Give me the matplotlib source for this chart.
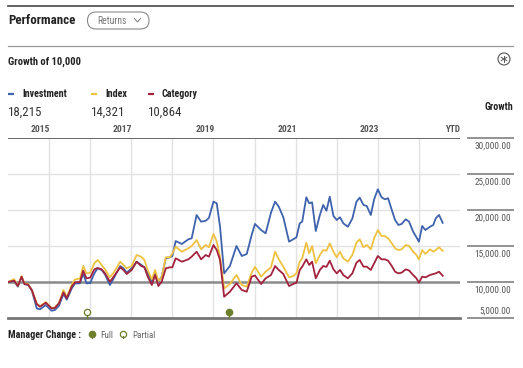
import os
import matplotlib
matplotlib.use("Agg")
import matplotlib.pyplot as plt
from matplotlib import font_manager
from matplotlib.font_manager import FontProperties
from matplotlib.patches import FancyBboxPatch, Circle
import matplotlib.transforms as mtransforms

# ---------------- data ----------------
dates = [2015.00, 2015.15, 2015.24, 2015.33, 2015.40, 2015.49, 2015.58, 2015.70, 2015.78, 2015.92,
         2016.06, 2016.14, 2016.24, 2016.35, 2016.43, 2016.55, 2016.63, 2016.75, 2016.83, 2016.91,
         2017.00, 2017.10, 2017.18, 2017.28, 2017.36, 2017.48, 2017.56, 2017.73, 2017.81, 2017.89,
         2018.01, 2018.13, 2018.24, 2018.32, 2018.40, 2018.50, 2018.58, 2018.66, 2018.74, 2018.84,
         2018.94, 2019.00, 2019.08, 2019.23, 2019.39, 2019.47, 2019.59, 2019.70, 2019.81, 2019.89,
         2020.00, 2020.08, 2020.16, 2020.26, 2020.40, 2020.56, 2020.69, 2020.81, 2020.93, 2021.01,
         2021.16, 2021.27, 2021.40, 2021.50, 2021.59, 2021.70, 2021.84, 2021.94, 2022.02, 2022.10,
         2022.16, 2022.26, 2022.33, 2022.40, 2022.49, 2022.59, 2022.67, 2022.75, 2022.83, 2022.92,
         2023.00, 2023.08, 2023.16, 2023.27, 2023.38, 2023.48, 2023.56, 2023.65, 2023.73, 2023.83,
         2023.91, 2024.00, 2024.09, 2024.17, 2024.25, 2024.34, 2024.42, 2024.50, 2024.58, 2024.68,
         2024.76, 2024.86, 2024.94, 2025.00, 2025.08, 2025.16, 2025.27, 2025.35, 2025.41, 2025.49,
         2025.58]

investment = [10000, 10150, 9350, 10700, 9720, 9600, 8800, 6340, 6200, 6800,
              6010, 6100, 6700, 8330, 7550, 9100, 9800, 9810, 11200, 9810,
              9850, 11200, 11900, 11670, 11060, 9580, 10370, 12220, 11900, 11300,
              11900, 12820, 12400, 12040, 11210, 10040, 11210, 10040, 10740, 13290,
              13430, 13600, 15690, 15280, 15930, 16070, 19300, 18380, 18500, 18900,
              21160, 20930, 17680, 11200, 12220, 15000, 13610, 13890, 16530, 18060,
              17220, 16760, 19630, 21160, 20460, 19000, 15600, 15930, 16210, 18150,
              18380, 21770, 20930, 21070, 17080, 19310, 20700, 19900, 21850, 19170,
              18610, 18990, 18150, 17680, 18800, 21160, 21720, 20700, 20560, 19310,
              21490, 22880, 21770, 21490, 21630, 20000, 18610, 17920, 18060, 18710,
              18380, 16990, 16210, 15600, 17780, 17220, 17680, 17920, 18850, 19310,
              18215]

index = [10000, 10400, 9440, 10800, 9800, 9700, 8890, 6990, 6650, 7200,
         6400, 6450, 7100, 8890, 7900, 9610, 10370, 10460, 12220, 11210,
         11300, 12590, 13060, 12360, 11760, 10650, 11210, 12820, 12360, 11900,
         12220, 13750, 13500, 13060, 11670, 10370, 11670, 10150, 10600, 13430,
         13430, 13980, 14900, 14210, 14680, 15000, 15830, 14540, 15140, 14820,
         16670, 15600, 13520, 9120, 9720, 10970, 9580, 9350, 11300, 12100,
         10740, 11430, 12040, 14210, 13150, 12130, 10650, 10830, 11200, 12820,
         13290, 15460, 13980, 15000, 12590, 13750, 14440, 14350, 15370, 14210,
         13430, 14210, 13290, 12820, 13750, 15460, 15930, 14820, 15140, 14540,
         16070, 17220, 16390, 16390, 16070, 15370, 14680, 14440, 14540, 15140,
         15000, 14210, 13750, 13150, 14440, 13890, 14540, 14210, 14440, 14820,
         14321]

category = [10000, 10180, 9440, 10740, 9720, 9630, 8890, 6940, 6570, 7130,
            6340, 6400, 7040, 8570, 7740, 9350, 9950, 9990, 11570, 10510,
            10600, 11760, 11940, 11760, 11200, 10040, 10650, 12040, 11670, 11110,
            11670, 12820, 12220, 12040, 10740, 9580, 10970, 9440, 10040, 11900,
            12040, 12040, 13290, 12820, 13150, 13520, 14210, 13150, 13750, 13520,
            15140, 14440, 13060, 7960, 8650, 9820, 8890, 8650, 10740, 10900,
            9720, 10510, 10970, 12220, 11670, 11110, 9440, 9720, 9900, 11670,
            12130, 13150, 12360, 12820, 10510, 11670, 12220, 12100, 12960, 11760,
            11200, 11670, 10970, 10510, 11200, 12680, 13060, 12130, 12130, 11670,
            12590, 13610, 13150, 13150, 12960, 12220, 11430, 11200, 11300, 11760,
            11600, 10970, 10510, 9900, 10740, 10650, 10970, 11110, 11200, 11430,
            10864]

series_names = ["Investment", "Index", "Category"]
series_final = ["18,215", "14,321", "10,864"]
year_labels = ["2015", "2017", "2019", "2021", "2023", "YTD"]
year_label_pos = [2016, 2018, 2020, 2022, 2024, 2026]
y_ticks = [5000, 10000, 15000, 20000, 25000, 30000]
mgr_full = [2020.38]
mgr_partial = [2016.92]

C_INV = "#3f62ad"
C_IDX = "#eec240"
C_CAT = "#a3223d"
C_MGR = "#6b7f2a"

# ---------------- fonts: look for a condensed face ----------------
def find_cond(bold):
    prefs = ["roboto", "liberation", "dejavu", "opensans", "open", "noto", "lato", "inter"]
    found = []
    for f in font_manager.fontManager.ttflist:
        fn = os.path.basename(f.fname).lower()
        if not ("condensed" in fn or "narrow" in fn):
            continue
        if any(k in fn for k in ["italic", "oblique", "light", "thin", "medium", "black", "semi", "extra"]):
            continue
        if ("bold" in fn) != bold:
            continue
        rank = len(prefs)
        for i, p in enumerate(prefs):
            if fn.startswith(p):
                rank = i
                break
        found.append((rank, f.fname))
    found.sort()
    return found[0][1] if found else None

REG_FILE = find_cond(False)
BOLD_FILE = find_cond(True)

def fprops(bold):
    fname = BOLD_FILE if bold else REG_FILE
    if fname:
        return FontProperties(fname=fname)
    return FontProperties(family=["Roboto", "DejaVu Sans"], weight="bold" if bold else "normal")

W, H = 523, 368
fig = plt.figure(figsize=(W / 100, H / 100), dpi=100)
fig.patch.set_facecolor("white")
renderer = fig.canvas.get_renderer()

# overlay axes in pixel coordinates
ov = fig.add_axes([0, 0, 1, 1])
ov.set_xlim(0, W)
ov.set_ylim(H, 0)
ov.axis("off")
ov.patch.set_alpha(0)

def put(x, y, s, size, target=None, bold=False, color="#222222", ha="left", va="center"):
    fp = fprops(bold)
    fp.set_size(size)
    t = ov.text(x, y, s, fontproperties=fp, color=color, ha=ha, va=va)
    if target:
        w = t.get_window_extent(renderer).width
        f = max(0.88, min(1.0, target / w))
        if f < 1.0:
            fp2 = fp.copy()
            fp2.set_size(size * f)
            t.set_fontproperties(fp2)
    return t

# header
ov.plot([8, 513], [6, 6], color="#555555", lw=1.3)
ov.plot([8, 513], [46, 46], color="#9a9a9a", lw=0.9)
put(8, 20, "Performance", 10, target=67, bold=True)
ov.add_patch(FancyBboxPatch((87.5, 12), 61.5, 17, boxstyle="round,pad=0,rounding_size=8.5",
                            fc="white", ec="#8a8a8a", lw=0.8))
put(97, 20.5, "Returns", 7.2, target=29, color="#777777")
ov.plot([134.5, 137.5, 140.5], [18.5, 22, 18.5], color="#777777", lw=0.7)

put(8, 62, "Growth of 10,000", 7.6, target=78, bold=True)
ov.add_patch(Circle((504, 59), 6, fc="white", ec="#555555", lw=0.8))
for dx, dy in [(0, 3.2), (2.8, 1.6), (2.8, -1.6)]:
    ov.plot([504 - dx, 504 + dx], [59 - dy, 59 + dy], color="#555555", lw=0.7)

# legend
leg_x = [8, 91, 148]
leg_w = [45, 22, 36]
for lx, name, col, val, tw in zip(leg_x, series_names, [C_INV, C_IDX, C_CAT], series_final, leg_w):
    ov.plot([lx, lx + 6], [94, 94], color=col, lw=1.6, solid_capstyle="butt")
    put(lx + 14, 94, name, 7.2, target=tw, bold=True)
    put(lx, 112, val, 10.5, target=34, color="#333333")
put(513, 107, "Growth", 7.2, target=31, bold=True, ha="right")

# main axes
ax = fig.add_axes([8 / W, 1 - 318 / H, 452 / W, 180 / H])
ax.set_xlim(2015, 2026)
ax.set_ylim(5000, 30000)
for s in ax.spines.values():
    s.set_visible(False)
ax.set_xticks([])
ax.set_yticks([])
ax.patch.set_alpha(0)

for yr in range(2016, 2026):
    ax.axvline(yr, color="#e2e2e2", lw=1.0, zorder=0)
for yv in [15000, 20000, 25000]:
    ax.axhline(yv, color="#e2e2e2", lw=1.0, zorder=0)
ax.axhline(30000, color="#666666", lw=1.4, zorder=1)
ax.axhline(10000, color="#8a8a8a", lw=1.8, zorder=1)
ax.axhline(5000, color="#777777", lw=2.0, zorder=1, clip_on=False)

ax.plot(dates, investment, color=C_INV, lw=1.3, zorder=3)
ax.plot(dates, index, color=C_IDX, lw=1.3, zorder=4)
ax.plot(dates, category, color=C_CAT, lw=1.3, zorder=5)

# manager change markers
trans = mtransforms.blended_transform_factory(ax.transData, ax.transAxes)
for d in mgr_full:
    ax.plot([d, d], [0.0, 0.03], color=C_MGR, lw=1.0, transform=trans, clip_on=False, zorder=6)
    ax.plot([d], [0.035], marker="o", ms=4.5, mfc=C_MGR, mec=C_MGR, transform=trans, clip_on=False, zorder=6)
for d in mgr_partial:
    ax.plot([d, d], [0.0, 0.03], color=C_MGR, lw=1.0, transform=trans, clip_on=False, zorder=6)
    ax.plot([d], [0.035], marker="o", ms=4.5, mfc="white", mec=C_MGR, mew=0.9, transform=trans, clip_on=False, zorder=6)

# year labels
for lab, pos in zip(year_labels, year_label_pos):
    xpix = 8 + (pos - 2015) * (452 / 11)
    put(xpix + 1, 130, lab, 6.8, target=20 if lab != "YTD" else 15, bold=True, color="#555555", ha="right")

# right axis labels
for yv in y_ticks:
    ypix = 318 - (yv - 5000) / 25000 * 180
    ov.plot([468, 513], [ypix, ypix], color="#8a8a8a", lw=1.3)
    lab = f"{yv:,.2f}"
    ty = ypix - 6.5 if yv == 5000 else ypix + 8
    put(511, ty, lab, 7.2, target=36 if yv >= 10000 else 31, color="#555555", ha="right")

# bottom legend
put(8, 335, "Manager Change :", 7.2, target=74, bold=True)
ov.plot([92], [334], marker="o", ms=4.5, mfc=C_MGR, mec=C_MGR)
ov.plot([92, 92], [336, 338], color=C_MGR, lw=0.8)
put(100, 335, "Full", 7.2, target=13, color="#666666")
ov.plot([123], [334], marker="o", ms=4.5, mfc="white", mec=C_MGR, mew=0.9)
ov.plot([123, 123], [336, 338], color=C_MGR, lw=0.8)
put(132, 335, "Partial", 7.2, target=23, color="#666666")

fig.savefig("out.png", dpi=100, facecolor="white")
